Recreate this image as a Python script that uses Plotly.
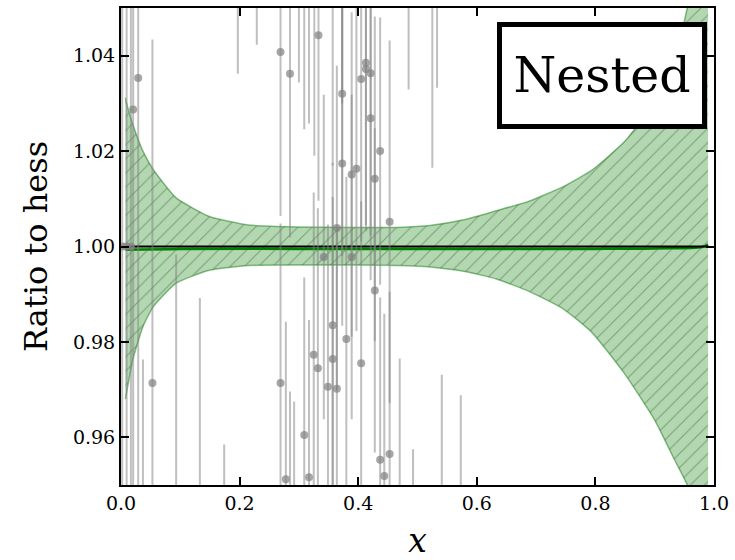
import plotly.graph_objects as go

# ---- data points (x, ratio, symmetric error) ----
pt_x = [0.0205, 0.029, 0.053, 0.269, 0.285, 0.333, 0.373, 0.373, 0.364, 0.413,
        0.413, 0.421, 0.405, 0.421, 0.437, 0.397, 0.389, 0.428, 0.453, 0.342,
        0.389, 0.428, 0.357, 0.380, 0.325, 0.357, 0.332, 0.349, 0.364, 0.269,
        0.405, 0.309, 0.278, 0.317, 0.437, 0.453, 0.444]
pt_y = [1.0287, 1.0353, 0.9714, 1.0408, 1.0362, 1.0443, 1.0320, 1.0174, 1.0039, 1.0385,
        1.0372, 1.0363, 1.0351, 1.0269, 1.0200, 1.0163, 1.0151, 1.0142, 1.0052, 0.9978,
        0.9978, 0.9908, 0.9835, 0.9806, 0.9773, 0.9764, 0.9745, 0.9706, 0.9702, 0.9714,
        0.9755, 0.9605, 0.9512, 0.9516, 0.9553, 0.9565, 0.9519]
pt_err = [0.090, 0.090, 0.072, 0.0344, 0.0343, 0.0347, 0.034, 0.034, 0.034, 0.034,
          0.034, 0.034, 0.034, 0.034, 0.028, 0.034, 0.034, 0.034, 0.038, 0.034,
          0.034, 0.034, 0.034, 0.034, 0.034, 0.034, 0.0335, 0.034, 0.034, 0.0334,
          0.034, 0.033, 0.033, 0.033, 0.034, 0.034, 0.034]

# ---- points lying outside the visible range (only their error bars show) ----
out_x = [0.002, 0.0095, 0.0167, 0.197, 0.229, 0.300, 0.309, 0.317, 0.326, 0.485,
         0.525, 0.533, 0.037, 0.093, 0.133, 0.174, 0.285, 0.292, 0.470, 0.4925,
         0.541, 0.573, 0.357, 0.373]
out_y = [1.000, 1.000, 1.000, 1.070, 1.070, 1.070, 1.070, 1.070, 1.070, 1.070,
         1.070, 1.070, 0.930, 0.930, 0.930, 0.930, 0.930, 0.930, 0.930, 0.930,
         0.930, 0.930, 1.070, 1.070]
out_err = [0.100, 0.100, 0.100, 0.0338, 0.0277, 0.0356, 0.0454, 0.0442, 0.0510, 0.0371,
           0.0535, 0.0367, 0.0463, 0.0683, 0.0592, 0.0285, 0.0396, 0.0375, 0.0465, 0.0275,
           0.0431, 0.0388, 0.0530, 0.0400]

# ---- uncertainty band ----
band_x = [0.0075, 0.0095, 0.02, 0.037, 0.054, 0.093, 0.149, 0.215, 0.3, 0.4,
          0.466, 0.521, 0.578, 0.633, 0.688, 0.745, 0.794, 0.85, 0.9, 0.933,
          0.955, 0.975, 0.99]
band_up = [1.0312, 1.0300, 1.0256, 1.0200, 1.0162, 1.0102, 1.0063, 1.0045, 1.0041, 1.0040,
           1.0040, 1.0044, 1.0056, 1.0075, 1.0095, 1.0125, 1.0160, 1.0221, 1.0304, 1.0380,
           1.0500, 1.0580, 1.0660]
band_lo = [0.9680, 0.9694, 0.9763, 0.9832, 0.9873, 0.9923, 0.9950, 0.9960, 0.9961, 0.9961,
           0.9960, 0.9957, 0.9948, 0.9932, 0.9906, 0.9870, 0.9820, 0.9732, 0.9636, 0.9554,
           0.9500, 0.9430, 0.9370]

# central lines
ref_x = [0.0075, 0.99]
ref_y = [1.0, 1.0]
cv_x = [0.0075, 0.1, 0.3, 0.5, 0.8, 0.9, 0.98, 0.99]
cv_y = [0.9993, 0.9995, 0.9995, 0.9995, 0.9995, 0.9996, 0.9999, 1.0004]

x_ticks = [0.0, 0.2, 0.4, 0.6, 0.8, 1.0]
y_ticks = [0.96, 0.98, 1.00, 1.02, 1.04]

SERIF = "DejaVu Serif"

fig = go.Figure()

fig.add_trace(go.Scatter(
    x=band_x, y=band_lo, mode="lines", line=dict(color="rgba(0,110,0,0.45)", width=1.5, shape="spline", smoothing=0.5),
    showlegend=False, hoverinfo="skip"))
fig.add_trace(go.Scatter(
    x=band_x, y=band_up, mode="lines", line=dict(color="rgba(0,110,0,0.45)", width=1.5, shape="spline", smoothing=0.5),
    fill="tonexty", fillcolor="rgb(179,216,177)",
    fillpattern=dict(shape="/", size=10, solidity=0.1, fgcolor="rgba(30,70,30,0.8)",
                     bgcolor="rgb(179,216,177)"),
    showlegend=False, hoverinfo="skip"))

fig.add_trace(go.Scatter(
    x=cv_x, y=cv_y, mode="lines", line=dict(color="green", width=2.5, shape="spline"), showlegend=False))
fig.add_trace(go.Scatter(
    x=ref_x, y=ref_y, mode="lines", line=dict(color="black", width=1.8), showlegend=False))

fig.add_trace(go.Scatter(
    x=out_x, y=out_y, mode="markers",
    marker=dict(size=8, color="rgba(128,128,128,0.7)"),
    error_y=dict(type="data", array=out_err, visible=True, thickness=2, width=0,
                 color="rgba(128,128,128,0.5)"),
    showlegend=False))
fig.add_trace(go.Scatter(
    x=pt_x, y=pt_y, mode="markers",
    marker=dict(size=8, color="rgba(128,128,128,0.7)"),
    error_y=dict(type="data", array=pt_err, visible=True, thickness=2, width=0,
                 color="rgba(128,128,128,0.5)"),
    showlegend=False))

fig.add_annotation(
    xref="paper", yref="paper", x=(607 - 121) / 599, y=1 - (73.5 - 6) / 479,
    xanchor="center", yanchor="middle", text="Nested", showarrow=False,
    font=dict(family=SERIF, size=49, color="black"),
    bgcolor="white", bordercolor="black", borderwidth=5, borderpad=0,
    width=200, height=97)

axis_common = dict(showline=True, linecolor="black", linewidth=2, mirror="ticks",
                   ticks="inside", ticklen=8, tickwidth=1.5, tickcolor="black",
                   showgrid=False, zeroline=False, ticklabeloverflow="allow",
                   tickfont=dict(family=SERIF, size=19, color="black"))

fig.update_xaxes(range=[0, 1], tickvals=x_ticks, tickformat=".1f",
                 title=dict(text="<i>x</i>", font=dict(family=SERIF, size=33, color="black"), standoff=16),
                 **axis_common)
fig.update_yaxes(range=[0.95, 1.05], tickvals=y_ticks, tickformat=".2f",
                 title=dict(text="Ratio to hess", font=dict(family=SERIF, size=32, color="black"), standoff=16),
                 **axis_common)

fig.update_layout(width=735, height=560, margin=dict(l=121, r=15, t=6, b=75),
                  paper_bgcolor="white", plot_bgcolor="white")

fig.write_html("out.html")
